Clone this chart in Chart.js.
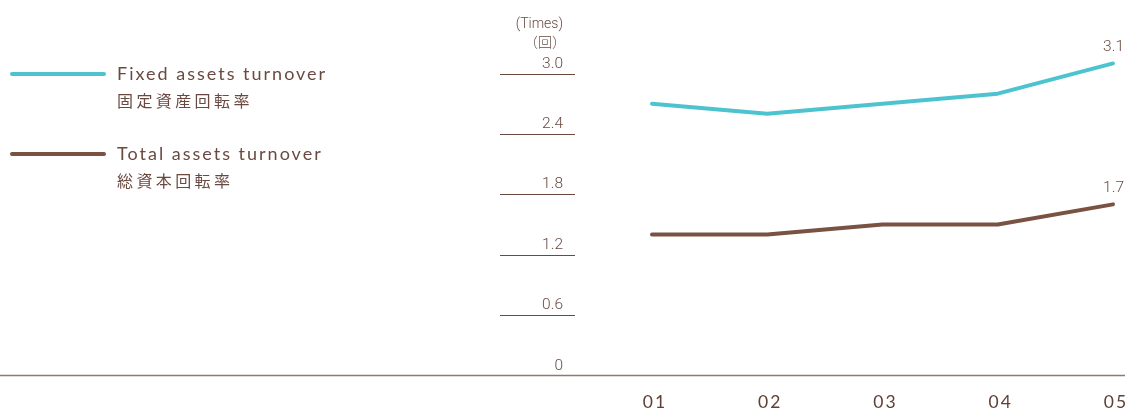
<!DOCTYPE html>
<html><head><meta charset="utf-8">
<script src="https://cdn.jsdelivr.net/npm/chart.js@4"></script>
<style>html,body{margin:0;padding:0;background:#fff;}#wrap{width:1125px;height:408px;}</style>
</head><body><div id="wrap"><canvas id="c" width="1125" height="408"></canvas></div>
<script>
const categories = ["01","02","03","04","05"];
const fixedAssetsTurnover = [2.7, 2.6, 2.7, 2.8, 3.1];
const totalAssetsTurnover = [1.4, 1.4, 1.5, 1.5, 1.7];
const yTicks = [0, 0.6, 1.2, 1.8, 2.4, 3.0];
const yTickLabels = ["0","0.6","1.2","1.8","2.4","3.0"];
const seriesNames = [["Fixed assets turnover","固定資産回転率"],["Total assets turnover","総資本回転率"]];
const endLabels = ["3.1","1.7"];
const unitLabels = ["(Times)","（回）"];

const CYAN = "#4cc3cf", BROWN = "#7a5243", TEXT = "#6a4a40";

const deco = {
  id: "deco",
  afterDraw(chart) {
    const ctx = chart.ctx, y = chart.scales.y, x = chart.scales.x;
    ctx.save();
    ctx.strokeStyle = "#8f7a72"; ctx.lineWidth = 1.5;
    ctx.beginPath(); ctx.moveTo(0, y.getPixelForValue(0)); ctx.lineTo(1125, y.getPixelForValue(0)); ctx.stroke();
    ctx.fillStyle = TEXT; ctx.textAlign = "right"; ctx.textBaseline = "alphabetic";
    ctx.font = "300 15.5px Roboto";
    yTicks.forEach((v, i) => {
      const py = y.getPixelForValue(v);
      if (v !== 0) {
        ctx.strokeStyle = "#6b4a3f"; ctx.lineWidth = 1;
        ctx.beginPath(); ctx.moveTo(500, Math.round(py) + 0.5); ctx.lineTo(575, Math.round(py) + 0.5); ctx.stroke();
      }
      ctx.fillText(yTickLabels[i], 563, py - 6);
    });
    ctx.font = "300 14px Roboto";
    ctx.fillText(unitLabels[0], 563, 28);
    ctx.font = "300 14px 'Noto Sans CJK JP'";
    ctx.fillText(unitLabels[1], 566, 47);
    ctx.font = "300 15.5px Roboto";
    const last = categories.length - 1;
    [fixedAssetsTurnover, totalAssetsTurnover].forEach((arr, k) => {
      ctx.fillText(endLabels[k], 1124, y.getPixelForValue(arr[last]) - 12);
    });
    ctx.textAlign = "center"; ctx.fillStyle = "#5e4036";
    ctx.font = "17.5px Lato"; ctx.letterSpacing = "2px";
    categories.forEach((c, i) => {
      ctx.fillText(c, x.getPixelForValue(i) + 3, 408);
    });
    const legY = [74, 154];
    [CYAN, BROWN].forEach((col, k) => {
      ctx.strokeStyle = col; ctx.lineWidth = 4; ctx.lineCap = "round";
      ctx.beginPath(); ctx.moveTo(12, legY[k]); ctx.lineTo(104, legY[k]); ctx.stroke();
      ctx.fillStyle = TEXT; ctx.textAlign = "left";
      ctx.letterSpacing = "2px"; ctx.font = "18px Lato";
      ctx.fillText(seriesNames[k][0], 117, legY[k] + 6);
      ctx.letterSpacing = "3.4px"; ctx.font = "16px 'Noto Sans CJK JP'";
      ctx.fillText(seriesNames[k][1], 117, legY[k] + 33);
    });
    ctx.restore();
  }
};

new Chart(document.getElementById("c"), {
  type: "line",
  data: {
    labels: categories,
    datasets: [
      { label: seriesNames[0][0], data: fixedAssetsTurnover, borderColor: CYAN, borderWidth: 4, borderCapStyle: "round", borderJoinStyle: "round", pointRadius: 0, tension: 0, clip: false },
      { label: seriesNames[1][0], data: totalAssetsTurnover, borderColor: BROWN, borderWidth: 4, borderCapStyle: "round", borderJoinStyle: "round", pointRadius: 0, tension: 0, clip: false }
    ]
  },
  options: {
    responsive: false, animation: false, devicePixelRatio: 1,
    layout: { padding: { left: 652, right: 12, top: 73.5, bottom: 32.5 } },
    plugins: { legend: { display: false }, tooltip: { enabled: false } },
    scales: {
      x: { display: false, offset: false },
      y: { display: false, min: 0, max: 3.0 }
    }
  },
  plugins: [deco]
});
</script></body></html>
